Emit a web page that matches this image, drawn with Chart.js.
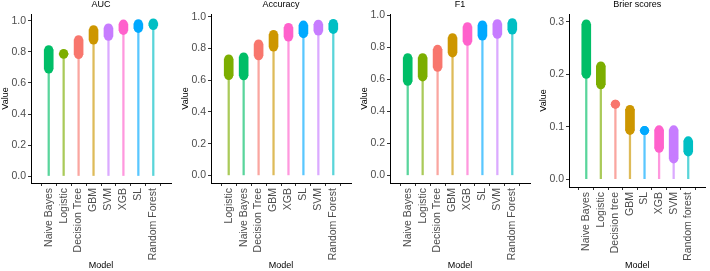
<!DOCTYPE html>
<html>
<head>
<meta charset="utf-8">
<script src="https://cdn.jsdelivr.net/npm/chart.js@4.4.1/dist/chart.umd.min.js"></script>
<style>
  body { margin: 0; background: #fff; width: 710px; height: 271px; overflow: hidden; position: relative; }
  .panel { position: absolute; top: 0; height: 271px; }
</style>
</head>
<body>
<div class="panel" style="left:0px"><canvas id="c1" width="178" height="271"></canvas></div>
<div class="panel" style="left:180px"><canvas id="c2" width="178" height="271"></canvas></div>
<div class="panel" style="left:359px"><canvas id="c3" width="178" height="271"></canvas></div>
<div class="panel" style="left:538px"><canvas id="c4" width="172" height="271"></canvas></div>
<script>
// AUC
const aucModels = ['Naive Bayes', 'Logistic', 'Decision Tree', 'GBM', 'SVM', 'XGB', 'SL', 'Random Forest'];
const aucLow  = [0.690, 0.785, 0.783, 0.877, 0.901, 0.939, 0.952, 0.971];
const aucHigh = [0.815, 0.790, 0.879, 0.944, 0.955, 0.980, 0.982, 0.987];

// Accuracy
const accModels = ['Logistic', 'Naive Bayes', 'Decision Tree', 'GBM', 'XGB', 'SL', 'SVM', 'Random Forest'];
const accLow  = [0.630, 0.628, 0.754, 0.810, 0.873, 0.894, 0.910, 0.921];
const accHigh = [0.734, 0.747, 0.829, 0.889, 0.933, 0.948, 0.954, 0.958];

// F1
const f1Models = ['Naive Bayes', 'Logistic', 'Decision Tree', 'GBM', 'XGB', 'SL', 'SVM', 'Random Forest'];
const f1Low  = [0.588, 0.615, 0.675, 0.765, 0.837, 0.870, 0.881, 0.908];
const f1High = [0.735, 0.735, 0.787, 0.860, 0.928, 0.939, 0.947, 0.953];

// Brier scores
const brierModels = ['Naive Bayes', 'Logistic', 'Decision tree', 'GBM', 'SL', 'XGB', 'SVM', 'Random forest'];
const brierLow  = [0.200, 0.180, 0.143, 0.093, 0.0926, 0.059, 0.0386, 0.052];
const brierHigh = [0.296, 0.216, 0.143, 0.133, 0.0926, 0.094, 0.094, 0.073];

const scoreTicks = [0, 0.2, 0.4, 0.6, 0.8, 1.0];
const brierTicks = [0, 0.1, 0.2, 0.3];

// same colour per model in every panel
const modelColors = {
    'naive bayes': '#00BE67',
    'logistic': '#7CAE00',
    'decision tree': '#F8766D',
    'gbm': '#CD9600',
    'svm': '#C77CFF',
    'xgb': '#FF61CC',
    'sl': '#00A9FF',
    'random forest': '#00BFC4'
};

const FONT = "'Liberation Sans', Arial, sans-serif";

function hexA(hex, a) {
    let r = parseInt(hex.slice(1, 3), 16), g = parseInt(hex.slice(3, 5), 16), b = parseInt(hex.slice(5, 7), 16);
    return `rgba(${r},${g},${b},${a})`;
}

// panel title centred over the plot area
const panelTitle = {
    id: 'panelTitle',
    afterDraw(chart, args, opts) {
        let ctx = chart.ctx, a = chart.chartArea;
        ctx.save();
        ctx.font = `9px ${FONT}`;
        ctx.fillStyle = '#000';
        ctx.textAlign = 'center';
        ctx.textBaseline = 'middle';
        ctx.fillText(opts.text, (a.left + a.right) / 2, 5);
        ctx.restore();
    }
};

function makePanel(id, title, models, low, high, ticks, yMin, yMax, padRight, xHeight) {
    let cols = models.map(m => modelColors[m.toLowerCase()]);
    let stem = models.map((m, i) => ({x: i, y: [0, high[i]]}));
    let range = models.map((m, i) => ({x: i, y: [low[i], high[i]]}));
    let lows = models.map((m, i) => ({x: i, y: low[i]}));
    let highs = models.map((m, i) => ({x: i, y: high[i]}));

    let ctx = document.getElementById(id).getContext('2d');
    return new Chart(ctx, {
        type: 'bar',
        data: {
            datasets: [
                {
                    data: stem,
                    backgroundColor: cols.map(c => hexA(c, 0.65)),
                    barThickness: 1.6,
                    grouped: false,
                    order: 3
                },
                {
                    data: range,
                    backgroundColor: cols,
                    barThickness: 9,
                    grouped: false,
                    order: 2
                },
                {
                    type: 'line',
                    data: lows,
                    showLine: false,
                    pointRadius: 4.5,
                    pointBorderWidth: 0,
                    pointBackgroundColor: cols,
                    order: 1
                },
                {
                    type: 'line',
                    data: highs,
                    showLine: false,
                    pointRadius: 4.5,
                    pointBorderWidth: 0,
                    pointBackgroundColor: cols,
                    order: 1
                }
            ]
        },
        options: {
            responsive: false,
            animation: false,
            devicePixelRatio: 1,
            layout: { padding: { top: 14, right: padRight, left: 0, bottom: 0 } },
            plugins: {
                legend: { display: false },
                tooltip: { enabled: false },
                panelTitle: { text: title }
            },
            scales: {
                x: {
                    type: 'linear',
                    min: -0.6,
                    max: models.length - 1 + 0.6,
                    afterBuildTicks: s => { s.ticks = models.map((m, i) => ({value: i})); },
                    afterFit: s => { s.height = xHeight; },
                    ticks: {
                        callback: v => models[v],
                        minRotation: 90,
                        maxRotation: 90,
                        autoSkip: false,
                        padding: 2,
                        color: '#4D4D4D',
                        font: { family: FONT, size: 10.5 }
                    },
                    grid: { drawOnChartArea: false, drawTicks: true, tickLength: 3, color: '#333' },
                    border: { display: true, color: '#000', width: 1 },
                    title: {
                        display: true,
                        text: 'Model',
                        color: '#000',
                        padding: { top: 0, bottom: 0 },
                        font: { family: FONT, size: 9 }
                    }
                },
                y: {
                    min: yMin,
                    max: yMax,
                    afterBuildTicks: s => { s.ticks = ticks.map(v => ({value: v})); },
                    afterFit: s => { s.width = 31; },
                    ticks: {
                        callback: v => v.toFixed(1),
                        padding: 2,
                        color: '#4D4D4D',
                        font: { family: FONT, size: 10.5 }
                    },
                    grid: { drawOnChartArea: false, drawTicks: true, tickLength: 3, color: '#333' },
                    border: { display: true, color: '#000', width: 1 },
                    title: {
                        display: true,
                        text: 'Value',
                        color: '#000',
                        padding: { top: 0, bottom: 0 },
                        font: { family: FONT, size: 9 }
                    }
                }
            }
        },
        plugins: [panelTitle]
    });
}

makePanel('c1', 'AUC', aucModels, aucLow, aucHigh, scoreTicks, -0.045, 1.045, 7, 88);
makePanel('c2', 'Accuracy', accModels, accLow, accHigh, scoreTicks, -0.048, 1.018, 7, 88);
makePanel('c3', 'F1', f1Models, f1Low, f1High, scoreTicks, -0.048, 1.008, 7, 88);
makePanel('c4', 'Brier scores', brierModels, brierLow, brierHigh, brierTicks, -0.015, 0.315, 2, 84);
</script>
</body>
</html>
